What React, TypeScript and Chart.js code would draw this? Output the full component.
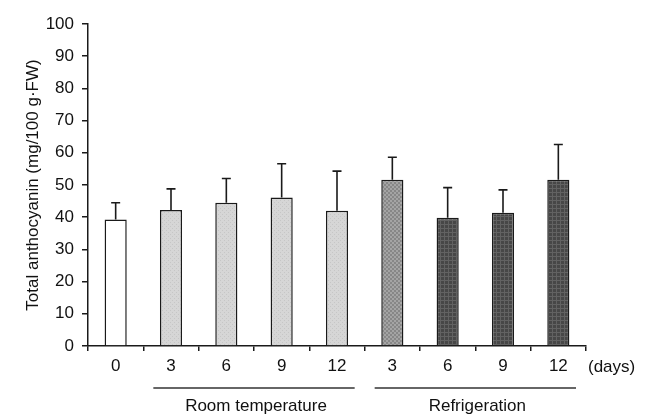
import React, { useEffect, useRef } from "react";
import { Chart, registerables } from "chart.js";

Chart.register(...registerables);

const categories = ["0", "3", "6", "9", "12", "3", "6", "9", "12"];
const means = [39.3, 42.2, 44.5, 46.1, 42.0, 51.6, 39.8, 41.4, 51.6];
const errors = [5.2, 6.6, 7.5, 10.5, 12.3, 7.0, 9.4, 7.1, 11.0];
const barKinds = ["white", "light", "light", "light", "light", "medium", "dark", "dark", "dark"];
const groupNames = ["Room temperature", "Refrigeration"];
const groupStart = [1, 5];
const groupEnd = [4, 8];
const yTicks = [0, 10, 20, 30, 40, 50, 60, 70, 80, 90, 100];
const yTitle = "Total anthocyanin (mg/100 g\u00b7FW)";
const unitLabel = "(days)";

const FONT = "'Liberation Sans', Arial, sans-serif";

function makePattern(kind: string): CanvasPattern | string {
  if (kind === "white") return "#ffffff";
  const c = document.createElement("canvas");
  c.width = 4;
  c.height = 4;
  const g = c.getContext("2d")!;
  if (kind === "light") {
    g.fillStyle = "#d6d6d6";
    g.fillRect(0, 0, 4, 4);
    g.fillStyle = "#c6c6c6";
    g.fillRect(0, 0, 1, 1);
    g.fillRect(2, 2, 1, 1);
  } else if (kind === "medium") {
    g.fillStyle = "#a4a4a4";
    g.fillRect(0, 0, 4, 4);
    g.fillStyle = "#878787";
    g.fillRect(0, 0, 2, 2);
    g.fillRect(2, 2, 2, 2);
  } else {
    g.fillStyle = "#474747";
    g.fillRect(0, 0, 4, 4);
    g.fillStyle = "#626262";
    g.fillRect(0, 0, 4, 1);
    g.fillRect(0, 0, 1, 4);
  }
  const p = g.createPattern(c, "repeat");
  return p || "#888";
}

const overlayPlugin = {
  id: "overlay",
  afterDatasetsDraw(chart: any) {
    const ctx = chart.ctx;
    const x = chart.scales.x;
    const y = chart.scales.y;
    ctx.save();
    ctx.strokeStyle = "#1a1a1a";
    ctx.lineWidth = 1.6;
    for (let i = 0; i < means.length; i++) {
      const cx = x.getPixelForValue(i);
      const y0 = y.getPixelForValue(means[i]);
      const y1 = y.getPixelForValue(means[i] + errors[i]);
      ctx.beginPath();
      ctx.moveTo(cx, y0);
      ctx.lineTo(cx, y1);
      ctx.moveTo(cx - 4.5, y1);
      ctx.lineTo(cx + 4.5, y1);
      ctx.stroke();
    }
    ctx.restore();
  },
  afterDraw(chart: any) {
    const ctx = chart.ctx;
    const x = chart.scales.x;
    const area = chart.chartArea;
    const catW = (area.right - area.left) / categories.length;
    ctx.save();
    ctx.fillStyle = "#111";
    ctx.font = `17px ${FONT}`;
    ctx.strokeStyle = "#333";
    ctx.lineWidth = 1.5;
    for (let g = 0; g < groupNames.length; g++) {
      const l = x.getPixelForValue(groupStart[g]) - catW / 2 + 10;
      const r = x.getPixelForValue(groupEnd[g]) + catW / 2 - 10;
      ctx.beginPath();
      ctx.moveTo(l, area.bottom + 42);
      ctx.lineTo(r, area.bottom + 42);
      ctx.stroke();
      ctx.textAlign = "center";
      ctx.textBaseline = "middle";
      ctx.fillText(groupNames[g], (l + r) / 2 + 2, area.bottom + 60);
    }
    ctx.textAlign = "left";
    ctx.textBaseline = "middle";
    ctx.fillText(unitLabel, area.right + 2, area.bottom + 21);
    ctx.translate(33, (area.top + area.bottom) / 2);
    ctx.rotate(-Math.PI / 2);
    ctx.textAlign = "center";
    ctx.textBaseline = "middle";
    ctx.fillText(yTitle, 0, 0);
    ctx.restore();
  },
};

export default function App() {
  const ref = useRef<HTMLCanvasElement>(null);
  useEffect(() => {
    if (!ref.current) return;
    const colors = barKinds.map(makePattern);
    const chart = new Chart(ref.current, {
      type: "bar",
      data: {
        labels: categories,
        datasets: [
          {
            data: means,
            backgroundColor: colors as any,
            borderColor: "#1a1a1a",
            borderWidth: 1.5,
            barPercentage: 0.4,
            categoryPercentage: 1,
          },
        ],
      },
      options: {
        responsive: false,
        animation: false,
        events: [],
        layout: { padding: { top: 24, right: 62, left: 0, bottom: 0 } },
        plugins: { legend: { display: false }, tooltip: { enabled: false } },
        scales: {
          x: {
            grid: {
              display: true,
              drawOnChartArea: false,
              drawTicks: true,
              tickLength: 5,
              color: "#1a1a1a",
              lineWidth: 1.5,
              offset: true,
            },
            border: { display: true, color: "#1a1a1a", width: 1.5 },
            ticks: {
              color: "#111",
              font: { family: FONT, size: 17 },
              padding: 5,
              maxRotation: 0,
              autoSkip: false,
            },
            afterFit: (s: any) => {
              s.height = 68;
            },
          },
          y: {
            min: 0,
            max: 100,
            afterBuildTicks: (s: any) => {
              s.ticks = yTicks.map((v) => ({ value: v }));
            },
            grid: {
              display: true,
              drawOnChartArea: false,
              drawTicks: true,
              tickLength: 6,
              color: "#1a1a1a",
              lineWidth: 1.5,
            },
            border: { display: true, color: "#1a1a1a", width: 1.5 },
            ticks: {
              color: "#111",
              font: { family: FONT, size: 17 },
              padding: 8,
            },
            afterFit: (s: any) => {
              s.width = 88;
            },
          },
        },
      },
      plugins: [overlayPlugin],
    });
    return () => chart.destroy();
  }, []);
  return (
    <div style={{ position: "fixed", left: 0, top: 0, width: 648, height: 414, background: "#fff" }}>
      <canvas ref={ref} width={648} height={414} style={{ width: 648, height: 414 }} />
    </div>
  );
}
